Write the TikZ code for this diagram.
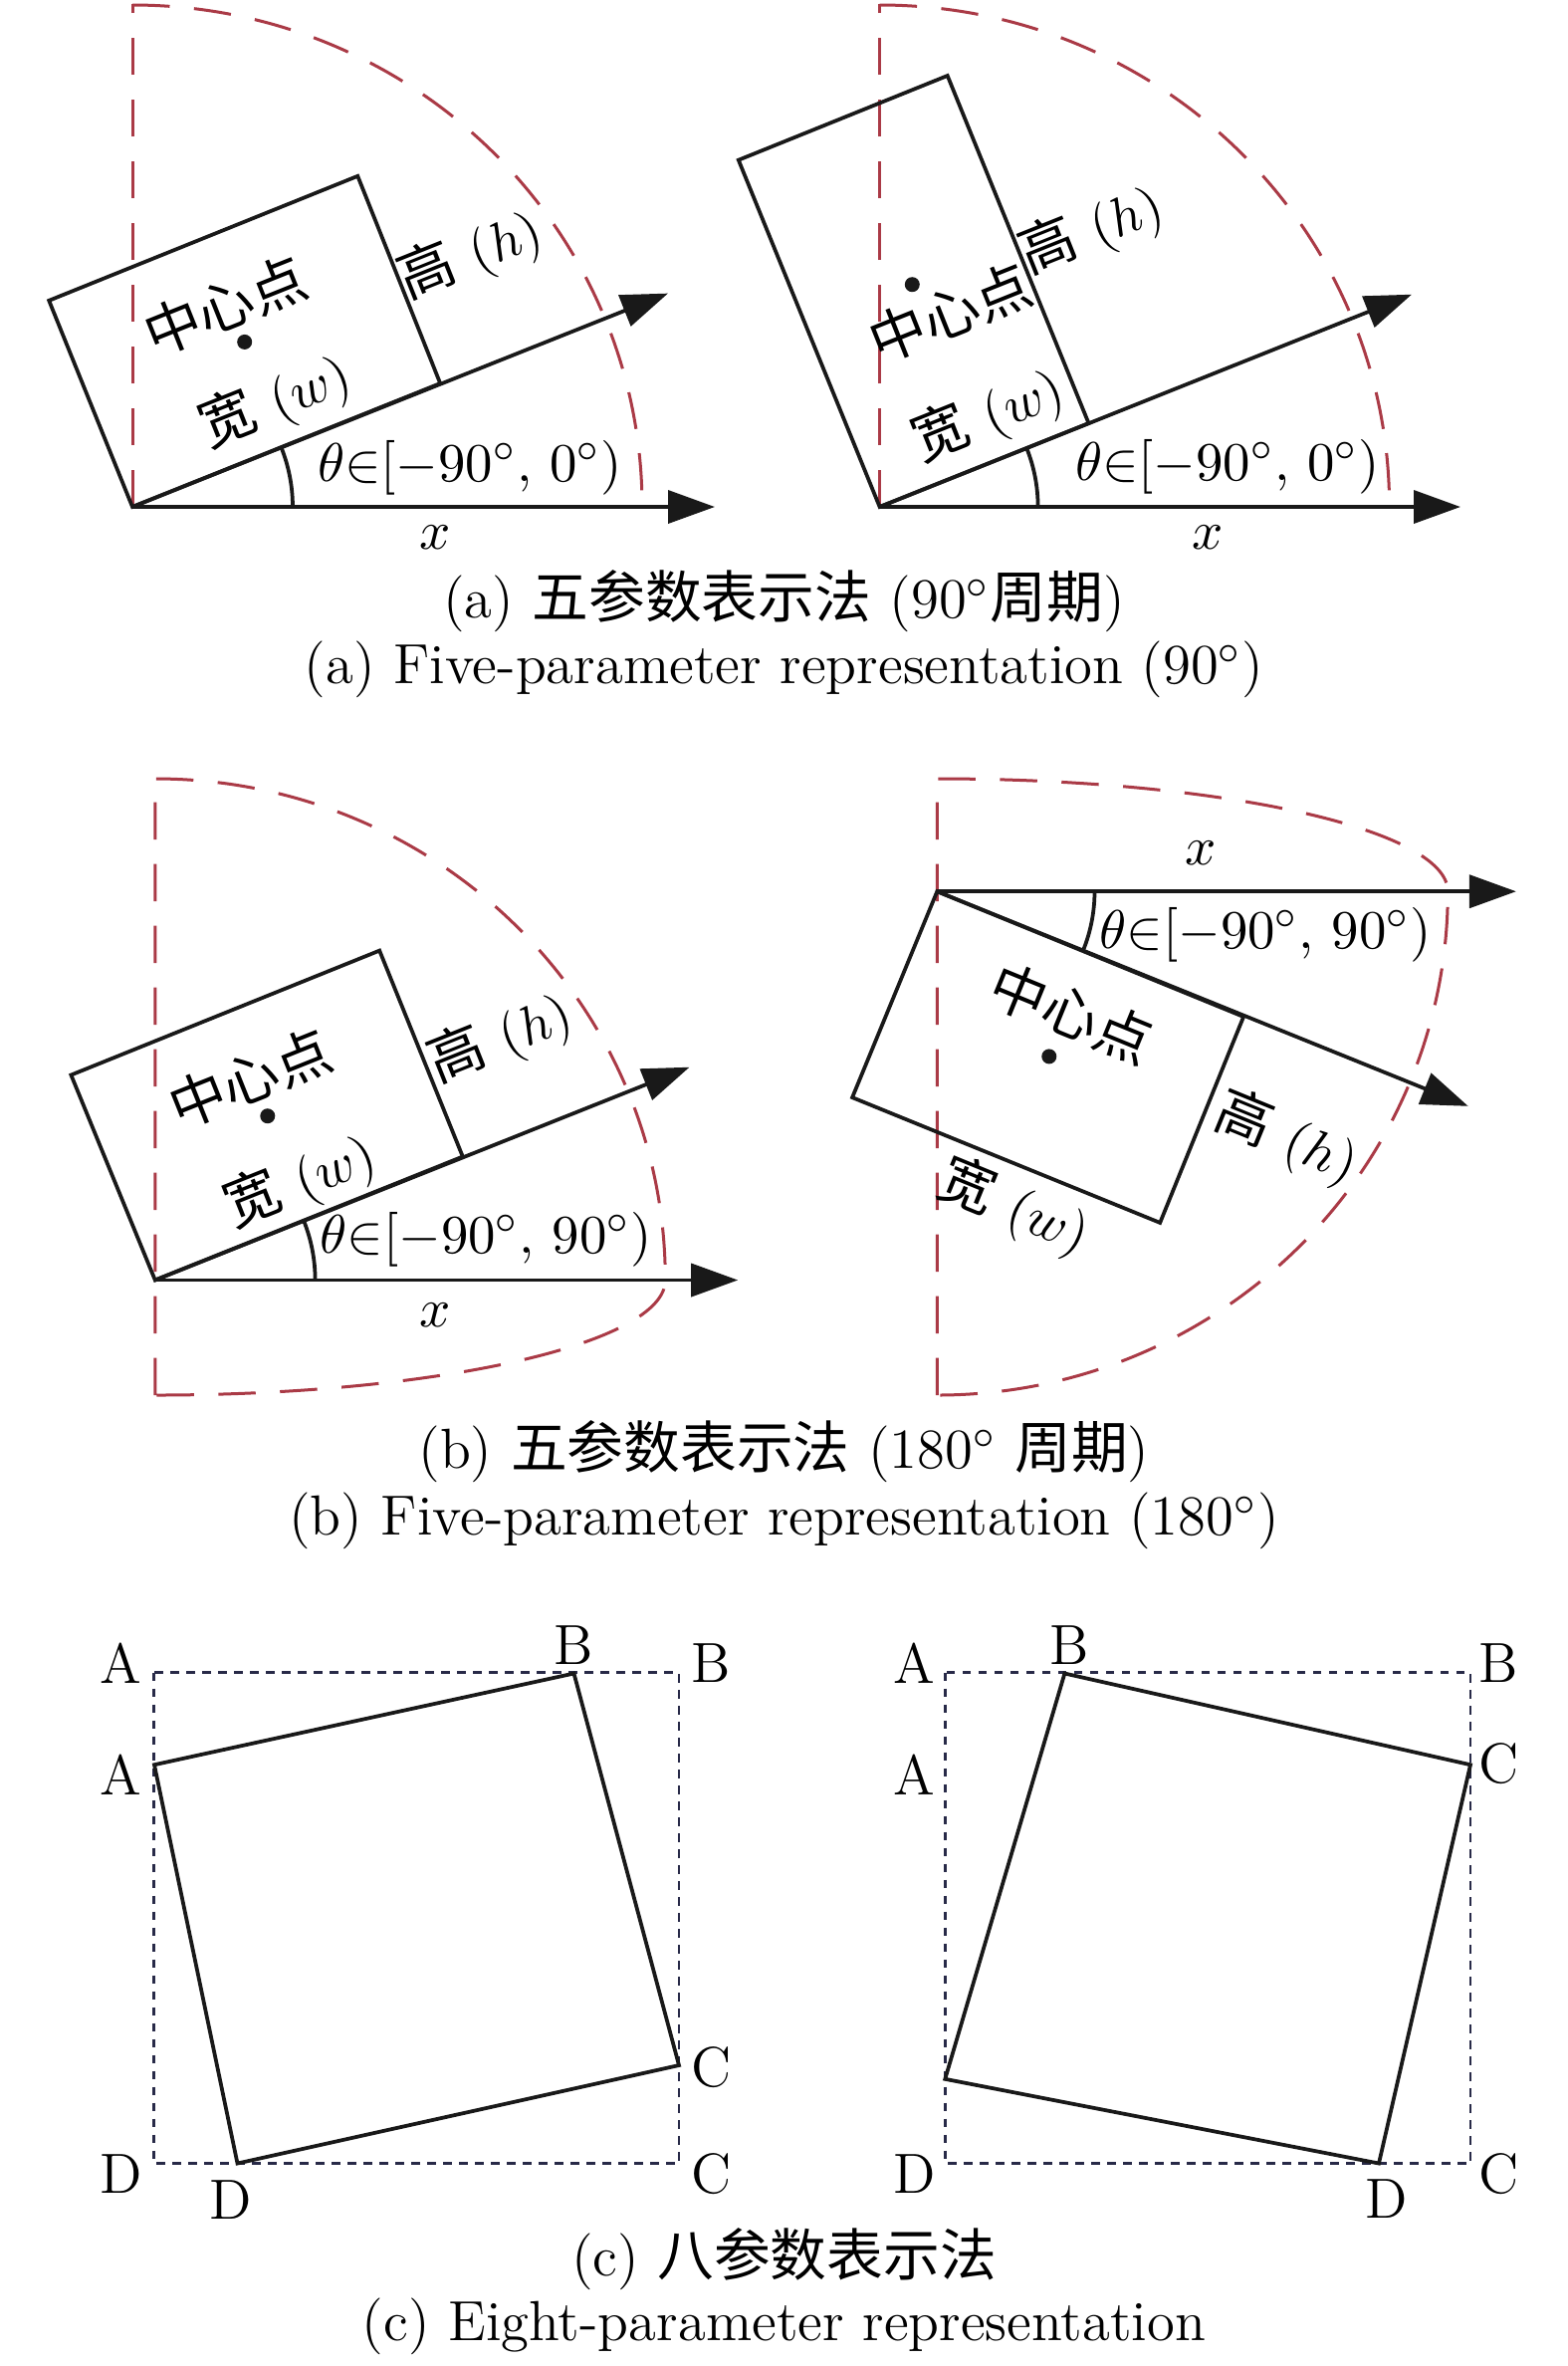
\documentclass[tikz,border=0pt]{standalone}
\usepackage{fontspec}
\newfontfamily\zhfont{Noto Sans CJK SC}
\usetikzlibrary{arrows.meta}
\definecolor{dashred}{RGB}{170,58,70}
\definecolor{dashnavy}{RGB}{40,42,72}
\begin{document}
\begin{tikzpicture}[x=0.2pt,y=0.2pt,font=\fontsize{11.35}{13.5}\selectfont,
  edgeline/.style={line width=0.75pt,black!90,line join=miter},
  axisarrow/.style={edgeline,-{Triangle[length=9.4pt,width=6.6pt]}},
  reddash/.style={dashred,line width=0.6pt,dash pattern=on 7.5pt off 4.9pt},
  navydash/.style={dashnavy,line width=0.55pt,dash pattern=on 1.7pt off 1.5pt},
  lbl/.style={inner sep=0pt},
  captext/.style={inner sep=0pt,anchor=base},
  centre/.style={fill=black!90}]
\useasboundingbox (0,0) rectangle (1575,-2376);

% ---------------- (a) left ----------------
\coordinate (aO) at (133,-509);
\coordinate (aX) at (718,-509);
\coordinate (aR) at (671,-294.6);
\coordinate (aP1) at (442.2,-385);
\coordinate (aP2) at (359.3,-176.8);
\coordinate (aP3) at (49.2,-301.8);
\coordinate (aTop) at (133,-4);
\coordinate (aArc) at (133,-5);
\draw[reddash] (aO) -- (aTop);
\draw[reddash] (aArc) arc[start angle=90,end angle=0,x radius=512,y radius=504];
\draw[edgeline] (aO) -- (aP1) -- (aP2) -- (aP3) -- cycle;
\draw[axisarrow] (aO) -- (aX);
\draw[axisarrow] (aO) -- (aR);
\draw[edgeline] (aO) ++(161,0) arc[start angle=0,end angle=21.8,radius=161];
\fill[centre] (245.7,-343.4) circle[radius=7.5];
\node[lbl,rotate=21.8] (aC) at (226.1,-307.1) {\zhfont 中心点};
\node[lbl,rotate=21.8] (aW) at (276.4,-403.6) {{\zhfont 宽} $(w)$};
\node[lbl,rotate=21.8] (aH) at (472.4,-257.1) {{\zhfont 高} $(h)$};
\node[lbl,anchor=base west] (aT) at (318,-483) {$\theta{\in}[-90^\circ,\,0^\circ)$};
\node[lbl] (aXl) at (437.2,-539.3) {$x$};

% ---------------- (a) right ----------------
\coordinate (bO) at (883.6,-509);
\coordinate (bX) at (1467,-509);
\coordinate (bR) at (1418,-295.7);
\coordinate (bP1) at (1093.5,-425);
\coordinate (bP2) at (951.7,-76);
\coordinate (bP3) at (741.8,-160.7);
\coordinate (bTop) at (883.6,-4);
\coordinate (bArc) at (883.6,-5);
\draw[reddash] (bO) -- (bTop);
\draw[reddash] (bArc) arc[start angle=90,end angle=0,x radius=512,y radius=504];
\draw[edgeline] (bO) -- (bP1) -- (bP2) -- (bP3) -- cycle;
\draw[axisarrow] (bO) -- (bX);
\draw[axisarrow] (bO) -- (bR);
\draw[edgeline] (bO) ++(159,0) arc[start angle=0,end angle=21.8,radius=159];
\fill[centre] (916.3,-285.7) circle[radius=7.5];
\node[lbl,rotate=21.8] (bC) at (954.5,-314.3) {\zhfont 中心点};
\node[lbl,rotate=21.8] (bW) at (992.6,-417.9) {{\zhfont 宽} $(w)$};
\node[lbl,rotate=21.8] (bH) at (1096.2,-232) {{\zhfont 高} $(h)$};
\node[lbl,anchor=base west] (bT) at (1079,-482) {$\theta{\in}[-90^\circ,\,0^\circ)$};
\node[lbl] (bXl) at (1213.5,-539.3) {$x$};

% ---------------- (b) left ----------------
\coordinate (cO) at (155.8,-1285.5);
\coordinate (cX) at (741.2,-1285.5);
\coordinate (cR) at (692.5,-1071.7);
\coordinate (cP1) at (464.8,-1161.5);
\coordinate (cP2) at (381.2,-954.6);
\coordinate (cP3) at (71.4,-1079.5);
\coordinate (cTop) at (155.8,-782);
\coordinate (cBot) at (155.8,-1401);
\draw[reddash] (cBot) -- (cTop) arc[start angle=90,end angle=0,x radius=512.5,y radius=503.5]
  arc[start angle=0,end angle=-90,x radius=512.5,y radius=115.5];
\draw[edgeline] (cO) -- (cP1) -- (cP2) -- (cP3) -- cycle;
\draw[axisarrow] (cO) -- (cX);
\draw[axisarrow] (cO) -- (cR);
\draw[edgeline] (cO) ++(160.8,0) arc[start angle=0,end angle=21.8,radius=160.8];
\fill[centre] (268.8,-1120.7) circle[radius=7.5];
\node[lbl,rotate=21.8] (cC) at (251.3,-1082.6) {\zhfont 中心点};
\node[lbl,rotate=21.8] (cW) at (301.5,-1186.7) {{\zhfont 宽} $(w)$};
\node[lbl,rotate=21.8] (cH) at (502.5,-1043.6) {{\zhfont 高} $(h)$};
\node[lbl,anchor=base west] (cT) at (320.5,-1258.2) {$\theta{\in}[-90^\circ,\,90^\circ)$};
\node[lbl] (cXl) at (437.2,-1321.1) {$x$};

% ---------------- (b) right ----------------
\coordinate (dO) at (941.3,-895.2);
\coordinate (dX) at (1522.9,-895.2);
\coordinate (dR) at (1474.7,-1110.8);
\coordinate (dP1) at (1249.1,-1021);
\coordinate (dP2) at (1165.2,-1227.9);
\coordinate (dP3) at (856.1,-1102.1);
\coordinate (dTop) at (941.3,-782);
\coordinate (dBot) at (941.3,-1401);
\draw[reddash] (dBot) -- (dTop) arc[start angle=90,end angle=0,x radius=513,y radius=113.2]
  arc[start angle=0,end angle=-90,x radius=513,y radius=505.8];
\draw[edgeline] (dO) -- (dP1) -- (dP2) -- (dP3) -- cycle;
\draw[axisarrow] (dO) -- (dX);
\draw[axisarrow] (dO) -- (dR);
\draw[edgeline] (dO) ++(158.2,0) arc[start angle=0,end angle=-22.2,radius=158.2];
\fill[centre] (1053.8,-1060.9) circle[radius=7.5];
\node[lbl,rotate=-22.2] (dC) at (1076.7,-1017.5) {\zhfont 中心点};
\node[lbl,rotate=-22.2] (dW) at (1018.3,-1212.7) {{\zhfont 宽} $(w)$};
\node[lbl,rotate=-22.2] (dH) at (1292.2,-1143.3) {{\zhfont 高} $(h)$};
\node[lbl,anchor=base west] (dT) at (1103.5,-952.5) {$\theta{\in}[-90^\circ,\,90^\circ)$};
\node[lbl] (dXl) at (1206,-857.1) {$x$};

% ---------------- (c) left ----------------
\draw[navydash] (154.5,-1679.6) rectangle (682,-2172.8);
\coordinate (eA) at (155,-1772.2);
\coordinate (eB) at (576.5,-1680.5);
\coordinate (eC) at (682,-2074);
\coordinate (eD) at (238.5,-2172.5);
\draw[edgeline] (eA) -- (eB) -- (eC) -- (eD) -- cycle;
\node[lbl] (eA1) at (121.4,-1670.4) {A};
\node[lbl] (eB1) at (576.5,-1652.5) {B};
\node[lbl] (eB2) at (714.3,-1670.4) {B};
\node[lbl] (eA2) at (121.4,-1782.6) {A};
\node[lbl] (eC1) at (714.3,-2076) {C};
\node[lbl] (eD1) at (121.4,-2183.1) {D};
\node[lbl] (eD2) at (232.1,-2208.7) {D};
\node[lbl] (eC2) at (714.3,-2183.1) {C};

% ---------------- (c) right ----------------
\draw[navydash] (949.3,-1679.6) rectangle (1477,-2172.8);
\coordinate (fB) at (1069.4,-1680.5);
\coordinate (fC) at (1477,-1772.2);
\coordinate (fD) at (1385,-2172.5);
\coordinate (fA) at (949.3,-2087.8);
\draw[edgeline] (fA) -- (fB) -- (fC) -- (fD) -- cycle;
\node[lbl] (fA1) at (918.7,-1670) {A};
\node[lbl] (fB1) at (1074.4,-1652.5) {B};
\node[lbl] (fB2) at (1505.6,-1670) {B};
\node[lbl] (fA2) at (918.7,-1782) {A};
\node[lbl] (fC1) at (1505.6,-1771) {C};
\node[lbl] (fD1) at (918.7,-2183) {D};
\node[lbl] (fD2) at (1392.5,-2208) {D};
\node[lbl] (fC2) at (1505.6,-2183) {C};

% ---------------- captions ----------------
\node[captext] (capa1) at (787.5,-620) {(a) {\zhfont 五参数表示法} (90$^\circ${\zhfont 周期})};
\node[captext] (capa2) at (787.5,-686) {(a) Five-parameter representation (90$^\circ$)};
\node[captext] (capb1) at (787.5,-1474) {(b) {\zhfont 五参数表示法} (180$^\circ$ {\zhfont 周期})};
\node[captext] (capb2) at (787.5,-1541) {(b) Five-parameter representation (180$^\circ$)};
\node[captext] (capc1) at (787.5,-2285) {(c) {\zhfont 八参数表示法}};
\node[captext] (capc2) at (787.5,-2350) {(c) Eight-parameter representation};
\end{tikzpicture}
\end{document}
